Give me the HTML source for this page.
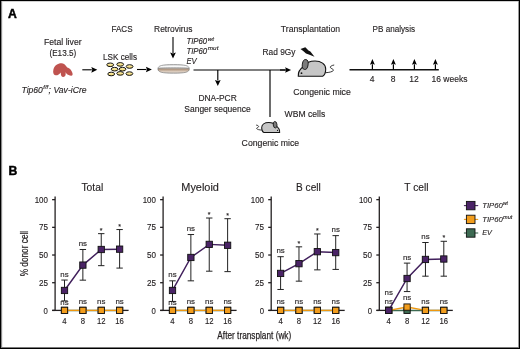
<!DOCTYPE html>
<html><head><meta charset="utf-8"><style>
html,body{margin:0;padding:0;background:#fff;}
body{width:520px;height:349px;overflow:hidden;}
.fig{position:absolute;left:0;top:0;width:520px;height:349px;box-sizing:border-box;border-left:1px solid #000;border-top:1px solid #000;border-right:1px solid #000;border-bottom:2px solid #000;}
svg{position:absolute;left:0;top:0;will-change:transform;font-family:"Liberation Sans", sans-serif;}
</style></head><body>
<svg width="520" height="349" viewBox="0 0 520 349">
<text x="8.1" y="17.6" font-size="12.2" text-anchor="start" fill="#000" font-weight="bold" stroke="#000" stroke-width="0.45">A</text>
<text x="62.8" y="44.6" font-size="8.5" text-anchor="middle" fill="#231f20" font-weight="normal" textLength="37.6" lengthAdjust="spacingAndGlyphs" stroke="#231f20" stroke-width="0.14">Fetal liver</text>
<text x="62.85" y="55.5" font-size="8.5" text-anchor="middle" fill="#231f20" font-weight="normal" textLength="26.8" lengthAdjust="spacingAndGlyphs" stroke="#231f20" stroke-width="0.14">(E13.5)</text>
<text x="122" y="32" font-size="8.5" text-anchor="middle" fill="#231f20" font-weight="normal" textLength="21" lengthAdjust="spacingAndGlyphs" stroke="#231f20" stroke-width="0.14">FACS</text>
<text x="120" y="59.9" font-size="8.5" text-anchor="middle" fill="#231f20" font-weight="normal" textLength="34" lengthAdjust="spacingAndGlyphs" stroke="#231f20" stroke-width="0.14">LSK cells</text>
<text x="173.3" y="31.6" font-size="8.5" text-anchor="middle" fill="#231f20" font-weight="normal" textLength="38.4" lengthAdjust="spacingAndGlyphs" stroke="#231f20" stroke-width="0.14">Retrovirus</text>
<text x="310.4" y="32" font-size="8.5" text-anchor="middle" fill="#231f20" font-weight="normal" textLength="59.2" lengthAdjust="spacingAndGlyphs" stroke="#231f20" stroke-width="0.14">Transplantation</text>
<text x="393.8" y="32" font-size="8.5" text-anchor="middle" fill="#231f20" font-weight="normal" textLength="42.5" lengthAdjust="spacingAndGlyphs" stroke="#231f20" stroke-width="0.14">PB analysis</text>
<path d="M53.15,71.45 C53.3,68 55,65.6 57,64.6 C58.5,63.6 60,63.15 61.45,63.15 C63.5,63.15 65.5,64.5 67.2,67.45 C69.5,67.8 72,70.5 72.6,73.75 C72.8,75.2 72,75.8 71.2,75.7 C69.5,75.5 67.5,74.8 66.6,73.75 C66,73.1 65.7,72.6 65.5,72.3 C66.1,74.6 65.4,76.9 63.3,76.9 C61.4,76.9 60.6,75 60.8,72.4 C59.8,73.8 57.5,75.5 55.7,75.35 C54.2,75.2 53.1,73.5 53.15,71.45 Z" fill="#bf534f"/>
<text x="21.5" y="92.7" font-size="8.8" text-anchor="start" fill="#231f20" font-weight="normal" font-style="italic" textLength="21.3" lengthAdjust="spacingAndGlyphs" stroke="#231f20" stroke-width="0.14">Tip60</text>
<text x="43.3" y="89.10000000000001" font-size="5.8" text-anchor="start" fill="#231f20" font-weight="normal" font-style="italic" textLength="5.0" lengthAdjust="spacingAndGlyphs" stroke="#231f20" stroke-width="0.14">f/f</text>
<text x="48.6" y="92.7" font-size="8.8" text-anchor="start" fill="#231f20" font-weight="normal" font-style="italic" textLength="38" lengthAdjust="spacingAndGlyphs" stroke="#231f20" stroke-width="0.14">; Vav-iCre</text>
<line x1="82.3" y1="69.8" x2="91.8" y2="69.8" stroke="#000" stroke-width="1.1"/>
<path d="M97.3,69.8 L91.3,66.95 L92.3,69.8 L91.3,72.64999999999999 Z" fill="#000"/>
<line x1="137" y1="69.5" x2="146.4" y2="69.5" stroke="#000" stroke-width="1.1"/>
<path d="M151.9,69.5 L145.9,66.65 L146.9,69.5 L145.9,72.35 Z" fill="#000"/>
<line x1="173" y1="37" x2="173" y2="53.1" stroke="#000" stroke-width="1.1"/>
<path d="M173,58.6 L170.15,52.6 L173,53.6 L175.85,52.6 Z" fill="#000"/>
<defs><linearGradient id="cg" x1="0" y1="0" x2="0" y2="1"><stop offset="0" stop-color="#fff3b8"/><stop offset="1" stop-color="#f0d468"/></linearGradient><linearGradient id="dg" x1="0" y1="0" x2="0" y2="1"><stop offset="0" stop-color="#a89a8e"/><stop offset="0.45" stop-color="#cdb9a6"/><stop offset="0.75" stop-color="#e2d6cb"/><stop offset="1" stop-color="#c9bcb1"/></linearGradient><linearGradient id="dish" x1="0" y1="0" x2="0" y2="1"><stop offset="0" stop-color="#d4d4d4"/><stop offset="0.2" stop-color="#fafafa"/><stop offset="0.33" stop-color="#f2f2f2"/><stop offset="0.42" stop-color="#a8a8a8"/><stop offset="0.5" stop-color="#bca590"/><stop offset="0.6" stop-color="#b09680"/><stop offset="0.76" stop-color="#dccbbb"/><stop offset="1" stop-color="#cfc8c2"/></linearGradient><linearGradient id="lg" x1="0" y1="0" x2="0" y2="1"><stop offset="0" stop-color="#d8d8d8"/><stop offset="0.35" stop-color="#ffffff"/><stop offset="1" stop-color="#e4e4e4"/></linearGradient></defs>
<ellipse cx="110.2" cy="64.8" rx="3.4" ry="1.8" fill="url(#cg)" stroke="#111" stroke-width="1.0"/>
<ellipse cx="120.2" cy="64.4" rx="3.4" ry="1.8" fill="url(#cg)" stroke="#111" stroke-width="1.0"/>
<ellipse cx="129.6" cy="66.5" rx="3.4" ry="1.8" fill="url(#cg)" stroke="#111" stroke-width="1.0"/>
<ellipse cx="114.6" cy="69.2" rx="3.4" ry="1.8" fill="url(#cg)" stroke="#111" stroke-width="1.0"/>
<ellipse cx="122.5" cy="69.2" rx="3.4" ry="1.8" fill="url(#cg)" stroke="#111" stroke-width="1.0"/>
<ellipse cx="111.2" cy="74" rx="3.4" ry="1.8" fill="url(#cg)" stroke="#111" stroke-width="1.0"/>
<ellipse cx="120.2" cy="73.4" rx="3.4" ry="1.8" fill="url(#cg)" stroke="#111" stroke-width="1.0"/>
<ellipse cx="129.4" cy="73.6" rx="3.4" ry="1.8" fill="url(#cg)" stroke="#111" stroke-width="1.0"/>
<path d="M157.9,68.9 C157.9,65.6 162,64.6 173.6,64.6 C185.2,64.6 189.3,65.6 189.3,68.9 C189.3,72.2 185.2,73.2 173.6,73.2 C162,73.2 157.9,72.2 157.9,68.9 Z" fill="url(#dish)" stroke="#7c7c7c" stroke-width="0.65"/>
<path d="M158.4,68.4 C160,67.9 165,67.7 173.6,67.7 C182,67.7 187,67.9 188.8,68.4" fill="none" stroke="#707070" stroke-width="0.5"/>
<text x="186.4" y="43.9" font-size="9" text-anchor="start" fill="#231f20" font-weight="normal" font-style="italic" textLength="20.8" lengthAdjust="spacingAndGlyphs" stroke="#231f20" stroke-width="0.14">TIP60</text>
<text x="207.8" y="40.9" font-size="5.6" text-anchor="start" fill="#231f20" font-weight="normal" font-style="italic" textLength="6.2" lengthAdjust="spacingAndGlyphs" stroke="#231f20" stroke-width="0.14">wt</text>
<text x="186.4" y="53.7" font-size="9" text-anchor="start" fill="#231f20" font-weight="normal" font-style="italic" textLength="20.8" lengthAdjust="spacingAndGlyphs" stroke="#231f20" stroke-width="0.14">TIP60</text>
<text x="207.8" y="50.400000000000006" font-size="5.6" text-anchor="start" fill="#231f20" font-weight="normal" font-style="italic" textLength="10.6" lengthAdjust="spacingAndGlyphs" stroke="#231f20" stroke-width="0.14">mut</text>
<text x="186.4" y="64.3" font-size="9" text-anchor="start" fill="#231f20" font-weight="normal" font-style="italic" textLength="10.2" lengthAdjust="spacingAndGlyphs" stroke="#231f20" stroke-width="0.14">EV</text>
<line x1="193.5" y1="70" x2="286" y2="70" stroke="#000" stroke-width="1.2"/>
<line x1="280" y1="70" x2="285.6" y2="70" stroke="#000" stroke-width="1.2"/>
<path d="M291.1,70 L285.1,67.15 L286.1,70 L285.1,72.85 Z" fill="#000"/>
<line x1="217.8" y1="70" x2="217.8" y2="80.5" stroke="#000" stroke-width="1.15"/>
<path d="M217.8,86 L214.95000000000002,80.0 L217.8,81.0 L220.65,80.0 Z" fill="#000"/>
<text x="217.6" y="101" font-size="8.5" text-anchor="middle" fill="#231f20" font-weight="normal" textLength="38.4" lengthAdjust="spacingAndGlyphs" stroke="#231f20" stroke-width="0.14">DNA-PCR</text>
<text x="217.5" y="111.6" font-size="8.5" text-anchor="middle" fill="#231f20" font-weight="normal" textLength="66.3" lengthAdjust="spacingAndGlyphs" stroke="#231f20" stroke-width="0.14">Sanger sequence</text>
<line x1="270" y1="70" x2="270" y2="117" stroke="#000" stroke-width="1.15"/>
<text x="284.6" y="117.3" font-size="8.5" text-anchor="start" fill="#231f20" font-weight="normal" textLength="40.6" lengthAdjust="spacingAndGlyphs" stroke="#231f20" stroke-width="0.14">WBM cells</text>
<text x="270.4" y="146.2" font-size="8.5" text-anchor="middle" fill="#231f20" font-weight="normal" textLength="57.6" lengthAdjust="spacingAndGlyphs" stroke="#231f20" stroke-width="0.14">Congenic mice</text>
<text x="322" y="94.5" font-size="8.5" text-anchor="middle" fill="#231f20" font-weight="normal" textLength="57.6" lengthAdjust="spacingAndGlyphs" stroke="#231f20" stroke-width="0.14">Congenic mice</text>
<text x="262.6" y="55.2" font-size="8.5" text-anchor="start" fill="#231f20" font-weight="normal" textLength="32.9" lengthAdjust="spacingAndGlyphs" stroke="#231f20" stroke-width="0.14">Rad 9Gy</text>
<path d="M300.5,49 L305.3,47.2 L308.5,50.5 L310.4,51.5 L314.5,56.8 L309.5,54.8 L306,53.5 L303.2,51 Z" fill="#111"/>
<g transform="translate(295,55) scale(1.0,1.0)"><path d="M30.7,17.7 C34,17.5 37.5,16.8 38.3,15.5 C39,14.2 36,13.6 35.4,12.6 C34.9,11.5 36.6,10.4 39.2,10" fill="none" stroke="#111" stroke-width="0.85"/><path d="M3.3,20.8 C3,18 5,14 9,11 C11,8 15,6 20,6 C26,6 30.7,9 30.7,14 C30.7,17.5 29,20.5 27.7,21.2 L3.3,21.2 Z" fill="#c6c6c6" stroke="#111" stroke-width="1.1"/><ellipse cx="10.2" cy="9.5" rx="2.9" ry="5" transform="rotate(8 10.2 9.5)" fill="#7b7b7b" stroke="#111" stroke-width="0.85"/><circle cx="6.5" cy="18.2" r="0.9" fill="#111"/></g>
<g transform="translate(281.8,118.5) scale(-0.655,0.655)"><path d="M30.7,17.7 C34,17.5 37.5,16.8 38.3,15.5 C39,14.2 36,13.6 35.4,12.6 C34.9,11.5 36.6,10.4 39.2,10" fill="none" stroke="#111" stroke-width="1.221"/><path d="M3.3,20.8 C3,18 5,14 9,11 C11,8 15,6 20,6 C26,6 30.7,9 30.7,14 C30.7,17.5 29,20.5 27.7,21.2 L3.3,21.2 Z" fill="#c6c6c6" stroke="#111" stroke-width="1.527"/><ellipse cx="10.2" cy="9.5" rx="2.9" ry="5" transform="rotate(8 10.2 9.5)" fill="#7b7b7b" stroke="#111" stroke-width="1.221"/><circle cx="6.5" cy="18.2" r="0.9" fill="#111"/></g>
<line x1="349.5" y1="69.7" x2="438.8" y2="69.7" stroke="#111" stroke-width="1.4"/>
<line x1="372.4" y1="69.5" x2="372.4" y2="64.2" stroke="#000" stroke-width="1.2"/>
<path d="M372.4,59.0 L369.95,64.7 L372.4,63.7 L374.84999999999997,64.7 Z" fill="#000"/>
<line x1="393.4" y1="69.5" x2="393.4" y2="64.2" stroke="#000" stroke-width="1.2"/>
<path d="M393.4,59.0 L390.95,64.7 L393.4,63.7 L395.84999999999997,64.7 Z" fill="#000"/>
<line x1="414.4" y1="69.5" x2="414.4" y2="64.2" stroke="#000" stroke-width="1.2"/>
<path d="M414.4,59.0 L411.95,64.7 L414.4,63.7 L416.84999999999997,64.7 Z" fill="#000"/>
<line x1="435.4" y1="69.5" x2="435.4" y2="64.2" stroke="#000" stroke-width="1.2"/>
<path d="M435.4,59.0 L432.95,64.7 L435.4,63.7 L437.84999999999997,64.7 Z" fill="#000"/>
<text x="372" y="82" font-size="8.5" text-anchor="middle" fill="#231f20" font-weight="normal" stroke="#231f20" stroke-width="0.14">4</text>
<text x="393" y="82" font-size="8.5" text-anchor="middle" fill="#231f20" font-weight="normal" stroke="#231f20" stroke-width="0.14">8</text>
<text x="414" y="82" font-size="8.5" text-anchor="middle" fill="#231f20" font-weight="normal" stroke="#231f20" stroke-width="0.14">12</text>
<text x="431.5" y="82" font-size="8.5" text-anchor="start" fill="#231f20" font-weight="normal" stroke="#231f20" stroke-width="0.14">16 weeks</text>
<text x="8.6" y="174.8" font-size="12.2" text-anchor="start" fill="#000" font-weight="bold" stroke="#000" stroke-width="0.45">B</text>
<text x="92.3" y="191" font-size="10.8" text-anchor="middle" fill="#231f20" font-weight="normal" textLength="21.8" lengthAdjust="spacingAndGlyphs" stroke="#231f20" stroke-width="0.14">Total</text>
<line x1="55.1" y1="196.5" x2="55.1" y2="310.4" stroke="#231f20" stroke-width="1.3"/>
<line x1="52.300000000000004" y1="310.4" x2="64.5" y2="310.4" stroke="#231f20" stroke-width="1.3"/>
<line x1="119.61" y1="310.4" x2="128.6" y2="310.4" stroke="#231f20" stroke-width="1.3"/>
<line x1="52.1" y1="310.4" x2="55.1" y2="310.4" stroke="#231f20" stroke-width="1.3"/>
<text x="47.9" y="313.5" font-size="8.6" text-anchor="end" fill="#231f20" font-weight="normal" textLength="4.3" lengthAdjust="spacingAndGlyphs" stroke="#231f20" stroke-width="0.14">0</text>
<line x1="52.1" y1="282.71" x2="55.1" y2="282.71" stroke="#231f20" stroke-width="1.3"/>
<text x="47.9" y="285.81" font-size="8.6" text-anchor="end" fill="#231f20" font-weight="normal" textLength="9" lengthAdjust="spacingAndGlyphs" stroke="#231f20" stroke-width="0.14">25</text>
<line x1="52.1" y1="255.02" x2="55.1" y2="255.02" stroke="#231f20" stroke-width="1.3"/>
<text x="47.9" y="258.12" font-size="8.6" text-anchor="end" fill="#231f20" font-weight="normal" textLength="9" lengthAdjust="spacingAndGlyphs" stroke="#231f20" stroke-width="0.14">50</text>
<line x1="52.1" y1="227.34" x2="55.1" y2="227.34" stroke="#231f20" stroke-width="1.3"/>
<text x="47.9" y="230.44" font-size="8.6" text-anchor="end" fill="#231f20" font-weight="normal" textLength="9" lengthAdjust="spacingAndGlyphs" stroke="#231f20" stroke-width="0.14">75</text>
<line x1="52.1" y1="199.65" x2="55.1" y2="199.65" stroke="#231f20" stroke-width="1.3"/>
<text x="47.9" y="202.75" font-size="8.6" text-anchor="end" fill="#231f20" font-weight="normal" textLength="13.2" lengthAdjust="spacingAndGlyphs" stroke="#231f20" stroke-width="0.14">100</text>
<text x="64.5" y="324.4" font-size="8.6" text-anchor="middle" fill="#231f20" font-weight="normal" textLength="4.3" lengthAdjust="spacingAndGlyphs" stroke="#231f20" stroke-width="0.14">4</text>
<text x="82.87" y="324.4" font-size="8.6" text-anchor="middle" fill="#231f20" font-weight="normal" textLength="4.3" lengthAdjust="spacingAndGlyphs" stroke="#231f20" stroke-width="0.14">8</text>
<text x="101.24" y="324.4" font-size="8.6" text-anchor="middle" fill="#231f20" font-weight="normal" textLength="8.6" lengthAdjust="spacingAndGlyphs" stroke="#231f20" stroke-width="0.14">12</text>
<text x="119.61" y="324.4" font-size="8.6" text-anchor="middle" fill="#231f20" font-weight="normal" textLength="8.6" lengthAdjust="spacingAndGlyphs" stroke="#231f20" stroke-width="0.14">16</text>
<polyline points="64.5,310.4 82.87,310.4 101.24,310.4 119.61,310.4" fill="none" stroke="#3d6a52" stroke-width="1.5"/>
<rect x="61.35" y="307.25" width="6.3" height="6.3" fill="#3d6a52" stroke="#111" stroke-width="0.9"/>
<rect x="79.72" y="307.25" width="6.3" height="6.3" fill="#3d6a52" stroke="#111" stroke-width="0.9"/>
<rect x="98.08999999999999" y="307.25" width="6.3" height="6.3" fill="#3d6a52" stroke="#111" stroke-width="0.9"/>
<rect x="116.46" y="307.25" width="6.3" height="6.3" fill="#3d6a52" stroke="#111" stroke-width="0.9"/>
<polyline points="64.5,310.4 82.87,310.4 101.24,310.4 119.61,310.4" fill="none" stroke="#ee9810" stroke-width="1.4"/>
<rect x="61.35" y="307.25" width="6.3" height="6.3" fill="#f29d1d" stroke="#111" stroke-width="0.9"/>
<rect x="79.72" y="307.25" width="6.3" height="6.3" fill="#f29d1d" stroke="#111" stroke-width="0.9"/>
<rect x="98.08999999999999" y="307.25" width="6.3" height="6.3" fill="#f29d1d" stroke="#111" stroke-width="0.9"/>
<rect x="116.46" y="307.25" width="6.3" height="6.3" fill="#f29d1d" stroke="#111" stroke-width="0.9"/>
<line x1="64.5" y1="280.05" x2="64.5" y2="300.88" stroke="#222" stroke-width="1"/>
<line x1="61.3" y1="280.05" x2="67.7" y2="280.05" stroke="#222" stroke-width="1"/>
<line x1="61.3" y1="300.88" x2="67.7" y2="300.88" stroke="#222" stroke-width="1"/>
<line x1="82.87" y1="249.49" x2="82.87" y2="280.17" stroke="#222" stroke-width="1"/>
<line x1="79.67" y1="249.49" x2="86.07000000000001" y2="249.49" stroke="#222" stroke-width="1"/>
<line x1="79.67" y1="280.17" x2="86.07000000000001" y2="280.17" stroke="#222" stroke-width="1"/>
<line x1="101.24" y1="233.65" x2="101.24" y2="265.66" stroke="#222" stroke-width="1"/>
<line x1="98.03999999999999" y1="233.65" x2="104.44" y2="233.65" stroke="#222" stroke-width="1"/>
<line x1="98.03999999999999" y1="265.66" x2="104.44" y2="265.66" stroke="#222" stroke-width="1"/>
<line x1="119.61" y1="229.55" x2="119.61" y2="268.09" stroke="#222" stroke-width="1"/>
<line x1="116.41" y1="229.55" x2="122.81" y2="229.55" stroke="#222" stroke-width="1"/>
<line x1="116.41" y1="268.09" x2="122.81" y2="268.09" stroke="#222" stroke-width="1"/>
<polyline points="64.5,290.46 82.87,265.1 101.24,249.49 119.61,249.16" fill="none" stroke="#41205c" stroke-width="1.45"/>
<rect x="61.35" y="287.31" width="6.3" height="6.3" fill="#4a2366" stroke="#111" stroke-width="0.9"/>
<rect x="79.72" y="261.95000000000005" width="6.3" height="6.3" fill="#4a2366" stroke="#111" stroke-width="0.9"/>
<rect x="98.08999999999999" y="246.34" width="6.3" height="6.3" fill="#4a2366" stroke="#111" stroke-width="0.9"/>
<rect x="116.46" y="246.01" width="6.3" height="6.3" fill="#4a2366" stroke="#111" stroke-width="0.9"/>
<text x="64.5" y="276.55" font-size="7.9" text-anchor="middle" fill="#231f20" font-weight="normal" stroke="#231f20" stroke-width="0.14">ns</text>
<text x="82.87" y="245.99" font-size="7.9" text-anchor="middle" fill="#231f20" font-weight="normal" stroke="#231f20" stroke-width="0.14">ns</text>
<text x="101.24" y="232.85" font-size="7" text-anchor="middle" fill="#231f20" font-weight="normal" stroke="#231f20" stroke-width="0.14">*</text>
<text x="119.61" y="228.75" font-size="7" text-anchor="middle" fill="#231f20" font-weight="normal" stroke="#231f20" stroke-width="0.14">*</text>
<text x="64.5" y="305.0" font-size="7.9" text-anchor="middle" fill="#231f20" font-weight="normal" stroke="#231f20" stroke-width="0.14">ns</text>
<text x="82.87" y="303.6" font-size="7.9" text-anchor="middle" fill="#231f20" font-weight="normal" stroke="#231f20" stroke-width="0.14">ns</text>
<text x="101.24" y="303.6" font-size="7.9" text-anchor="middle" fill="#231f20" font-weight="normal" stroke="#231f20" stroke-width="0.14">ns</text>
<text x="119.61" y="303.6" font-size="7.9" text-anchor="middle" fill="#231f20" font-weight="normal" stroke="#231f20" stroke-width="0.14">ns</text>
<text x="200.1" y="191" font-size="10.8" text-anchor="middle" fill="#231f20" font-weight="normal" textLength="37.6" lengthAdjust="spacingAndGlyphs" stroke="#231f20" stroke-width="0.14">Myeloid</text>
<line x1="163.1" y1="196.5" x2="163.1" y2="310.4" stroke="#231f20" stroke-width="1.3"/>
<line x1="160.29999999999998" y1="310.4" x2="172.5" y2="310.4" stroke="#231f20" stroke-width="1.3"/>
<line x1="227.61" y1="310.4" x2="236.6" y2="310.4" stroke="#231f20" stroke-width="1.3"/>
<line x1="160.1" y1="310.4" x2="163.1" y2="310.4" stroke="#231f20" stroke-width="1.3"/>
<text x="155.9" y="313.5" font-size="8.6" text-anchor="end" fill="#231f20" font-weight="normal" textLength="4.3" lengthAdjust="spacingAndGlyphs" stroke="#231f20" stroke-width="0.14">0</text>
<line x1="160.1" y1="282.71" x2="163.1" y2="282.71" stroke="#231f20" stroke-width="1.3"/>
<text x="155.9" y="285.81" font-size="8.6" text-anchor="end" fill="#231f20" font-weight="normal" textLength="9" lengthAdjust="spacingAndGlyphs" stroke="#231f20" stroke-width="0.14">25</text>
<line x1="160.1" y1="255.02" x2="163.1" y2="255.02" stroke="#231f20" stroke-width="1.3"/>
<text x="155.9" y="258.12" font-size="8.6" text-anchor="end" fill="#231f20" font-weight="normal" textLength="9" lengthAdjust="spacingAndGlyphs" stroke="#231f20" stroke-width="0.14">50</text>
<line x1="160.1" y1="227.34" x2="163.1" y2="227.34" stroke="#231f20" stroke-width="1.3"/>
<text x="155.9" y="230.44" font-size="8.6" text-anchor="end" fill="#231f20" font-weight="normal" textLength="9" lengthAdjust="spacingAndGlyphs" stroke="#231f20" stroke-width="0.14">75</text>
<line x1="160.1" y1="199.65" x2="163.1" y2="199.65" stroke="#231f20" stroke-width="1.3"/>
<text x="155.9" y="202.75" font-size="8.6" text-anchor="end" fill="#231f20" font-weight="normal" textLength="13.2" lengthAdjust="spacingAndGlyphs" stroke="#231f20" stroke-width="0.14">100</text>
<text x="172.5" y="324.4" font-size="8.6" text-anchor="middle" fill="#231f20" font-weight="normal" textLength="4.3" lengthAdjust="spacingAndGlyphs" stroke="#231f20" stroke-width="0.14">4</text>
<text x="190.87" y="324.4" font-size="8.6" text-anchor="middle" fill="#231f20" font-weight="normal" textLength="4.3" lengthAdjust="spacingAndGlyphs" stroke="#231f20" stroke-width="0.14">8</text>
<text x="209.24" y="324.4" font-size="8.6" text-anchor="middle" fill="#231f20" font-weight="normal" textLength="8.6" lengthAdjust="spacingAndGlyphs" stroke="#231f20" stroke-width="0.14">12</text>
<text x="227.61" y="324.4" font-size="8.6" text-anchor="middle" fill="#231f20" font-weight="normal" textLength="8.6" lengthAdjust="spacingAndGlyphs" stroke="#231f20" stroke-width="0.14">16</text>
<polyline points="172.5,310.4 190.87,310.4 209.24,310.4 227.61,310.4" fill="none" stroke="#3d6a52" stroke-width="1.5"/>
<rect x="169.35" y="307.25" width="6.3" height="6.3" fill="#3d6a52" stroke="#111" stroke-width="0.9"/>
<rect x="187.72" y="307.25" width="6.3" height="6.3" fill="#3d6a52" stroke="#111" stroke-width="0.9"/>
<rect x="206.09" y="307.25" width="6.3" height="6.3" fill="#3d6a52" stroke="#111" stroke-width="0.9"/>
<rect x="224.46" y="307.25" width="6.3" height="6.3" fill="#3d6a52" stroke="#111" stroke-width="0.9"/>
<polyline points="172.5,310.4 190.87,310.4 209.24,310.4 227.61,310.4" fill="none" stroke="#ee9810" stroke-width="1.4"/>
<rect x="169.35" y="307.25" width="6.3" height="6.3" fill="#f29d1d" stroke="#111" stroke-width="0.9"/>
<rect x="187.72" y="307.25" width="6.3" height="6.3" fill="#f29d1d" stroke="#111" stroke-width="0.9"/>
<rect x="206.09" y="307.25" width="6.3" height="6.3" fill="#f29d1d" stroke="#111" stroke-width="0.9"/>
<rect x="224.46" y="307.25" width="6.3" height="6.3" fill="#f29d1d" stroke="#111" stroke-width="0.9"/>
<line x1="172.5" y1="280.83" x2="172.5" y2="301.43" stroke="#222" stroke-width="1"/>
<line x1="169.3" y1="280.83" x2="175.7" y2="280.83" stroke="#222" stroke-width="1"/>
<line x1="169.3" y1="301.43" x2="175.7" y2="301.43" stroke="#222" stroke-width="1"/>
<line x1="190.87" y1="234.54" x2="190.87" y2="280.83" stroke="#222" stroke-width="1"/>
<line x1="187.67000000000002" y1="234.54" x2="194.07" y2="234.54" stroke="#222" stroke-width="1"/>
<line x1="187.67000000000002" y1="280.83" x2="194.07" y2="280.83" stroke="#222" stroke-width="1"/>
<line x1="209.24" y1="218.03" x2="209.24" y2="271.19" stroke="#222" stroke-width="1"/>
<line x1="206.04000000000002" y1="218.03" x2="212.44" y2="218.03" stroke="#222" stroke-width="1"/>
<line x1="206.04000000000002" y1="271.19" x2="212.44" y2="271.19" stroke="#222" stroke-width="1"/>
<line x1="227.61" y1="218.7" x2="227.61" y2="271.64" stroke="#222" stroke-width="1"/>
<line x1="224.41000000000003" y1="218.7" x2="230.81" y2="218.7" stroke="#222" stroke-width="1"/>
<line x1="224.41000000000003" y1="271.64" x2="230.81" y2="271.64" stroke="#222" stroke-width="1"/>
<polyline points="172.5,290.46 190.87,257.46 209.24,244.39 227.61,245.28" fill="none" stroke="#41205c" stroke-width="1.45"/>
<rect x="169.35" y="287.31" width="6.3" height="6.3" fill="#4a2366" stroke="#111" stroke-width="0.9"/>
<rect x="187.72" y="254.30999999999997" width="6.3" height="6.3" fill="#4a2366" stroke="#111" stroke-width="0.9"/>
<rect x="206.09" y="241.23999999999998" width="6.3" height="6.3" fill="#4a2366" stroke="#111" stroke-width="0.9"/>
<rect x="224.46" y="242.13" width="6.3" height="6.3" fill="#4a2366" stroke="#111" stroke-width="0.9"/>
<text x="172.5" y="277.33" font-size="7.9" text-anchor="middle" fill="#231f20" font-weight="normal" stroke="#231f20" stroke-width="0.14">ns</text>
<text x="190.87" y="231.04" font-size="7.9" text-anchor="middle" fill="#231f20" font-weight="normal" stroke="#231f20" stroke-width="0.14">ns</text>
<text x="209.24" y="217.23" font-size="7" text-anchor="middle" fill="#231f20" font-weight="normal" stroke="#231f20" stroke-width="0.14">*</text>
<text x="227.61" y="217.89999999999998" font-size="7" text-anchor="middle" fill="#231f20" font-weight="normal" stroke="#231f20" stroke-width="0.14">*</text>
<text x="172.5" y="305.0" font-size="7.9" text-anchor="middle" fill="#231f20" font-weight="normal" stroke="#231f20" stroke-width="0.14">ns</text>
<text x="190.87" y="303.6" font-size="7.9" text-anchor="middle" fill="#231f20" font-weight="normal" stroke="#231f20" stroke-width="0.14">ns</text>
<text x="209.24" y="303.6" font-size="7.9" text-anchor="middle" fill="#231f20" font-weight="normal" stroke="#231f20" stroke-width="0.14">ns</text>
<text x="227.61" y="303.6" font-size="7.9" text-anchor="middle" fill="#231f20" font-weight="normal" stroke="#231f20" stroke-width="0.14">ns</text>
<text x="308.4" y="191" font-size="10.8" text-anchor="middle" fill="#231f20" font-weight="normal" textLength="24.7" lengthAdjust="spacingAndGlyphs" stroke="#231f20" stroke-width="0.14">B cell</text>
<line x1="271.2" y1="196.5" x2="271.2" y2="310.4" stroke="#231f20" stroke-width="1.3"/>
<line x1="268.4" y1="310.4" x2="280.6" y2="310.4" stroke="#231f20" stroke-width="1.3"/>
<line x1="335.71" y1="310.4" x2="344.7" y2="310.4" stroke="#231f20" stroke-width="1.3"/>
<line x1="268.2" y1="310.4" x2="271.2" y2="310.4" stroke="#231f20" stroke-width="1.3"/>
<text x="264.0" y="313.5" font-size="8.6" text-anchor="end" fill="#231f20" font-weight="normal" textLength="4.3" lengthAdjust="spacingAndGlyphs" stroke="#231f20" stroke-width="0.14">0</text>
<line x1="268.2" y1="282.71" x2="271.2" y2="282.71" stroke="#231f20" stroke-width="1.3"/>
<text x="264.0" y="285.81" font-size="8.6" text-anchor="end" fill="#231f20" font-weight="normal" textLength="9" lengthAdjust="spacingAndGlyphs" stroke="#231f20" stroke-width="0.14">25</text>
<line x1="268.2" y1="255.02" x2="271.2" y2="255.02" stroke="#231f20" stroke-width="1.3"/>
<text x="264.0" y="258.12" font-size="8.6" text-anchor="end" fill="#231f20" font-weight="normal" textLength="9" lengthAdjust="spacingAndGlyphs" stroke="#231f20" stroke-width="0.14">50</text>
<line x1="268.2" y1="227.34" x2="271.2" y2="227.34" stroke="#231f20" stroke-width="1.3"/>
<text x="264.0" y="230.44" font-size="8.6" text-anchor="end" fill="#231f20" font-weight="normal" textLength="9" lengthAdjust="spacingAndGlyphs" stroke="#231f20" stroke-width="0.14">75</text>
<line x1="268.2" y1="199.65" x2="271.2" y2="199.65" stroke="#231f20" stroke-width="1.3"/>
<text x="264.0" y="202.75" font-size="8.6" text-anchor="end" fill="#231f20" font-weight="normal" textLength="13.2" lengthAdjust="spacingAndGlyphs" stroke="#231f20" stroke-width="0.14">100</text>
<text x="280.6" y="324.4" font-size="8.6" text-anchor="middle" fill="#231f20" font-weight="normal" textLength="4.3" lengthAdjust="spacingAndGlyphs" stroke="#231f20" stroke-width="0.14">4</text>
<text x="298.97" y="324.4" font-size="8.6" text-anchor="middle" fill="#231f20" font-weight="normal" textLength="4.3" lengthAdjust="spacingAndGlyphs" stroke="#231f20" stroke-width="0.14">8</text>
<text x="317.34" y="324.4" font-size="8.6" text-anchor="middle" fill="#231f20" font-weight="normal" textLength="8.6" lengthAdjust="spacingAndGlyphs" stroke="#231f20" stroke-width="0.14">12</text>
<text x="335.71" y="324.4" font-size="8.6" text-anchor="middle" fill="#231f20" font-weight="normal" textLength="8.6" lengthAdjust="spacingAndGlyphs" stroke="#231f20" stroke-width="0.14">16</text>
<polyline points="280.6,310.4 298.97,310.4 317.34,310.4 335.71,310.4" fill="none" stroke="#3d6a52" stroke-width="1.5"/>
<rect x="277.45000000000005" y="307.25" width="6.3" height="6.3" fill="#3d6a52" stroke="#111" stroke-width="0.9"/>
<rect x="295.82000000000005" y="307.25" width="6.3" height="6.3" fill="#3d6a52" stroke="#111" stroke-width="0.9"/>
<rect x="314.19" y="307.25" width="6.3" height="6.3" fill="#3d6a52" stroke="#111" stroke-width="0.9"/>
<rect x="332.56" y="307.25" width="6.3" height="6.3" fill="#3d6a52" stroke="#111" stroke-width="0.9"/>
<polyline points="280.6,310.4 298.97,310.4 317.34,310.4 335.71,310.4" fill="none" stroke="#ee9810" stroke-width="1.4"/>
<rect x="277.45000000000005" y="307.25" width="6.3" height="6.3" fill="#f29d1d" stroke="#111" stroke-width="0.9"/>
<rect x="295.82000000000005" y="307.25" width="6.3" height="6.3" fill="#f29d1d" stroke="#111" stroke-width="0.9"/>
<rect x="314.19" y="307.25" width="6.3" height="6.3" fill="#f29d1d" stroke="#111" stroke-width="0.9"/>
<rect x="332.56" y="307.25" width="6.3" height="6.3" fill="#f29d1d" stroke="#111" stroke-width="0.9"/>
<line x1="280.6" y1="256.69" x2="280.6" y2="289.47" stroke="#222" stroke-width="1"/>
<line x1="277.40000000000003" y1="256.69" x2="283.8" y2="256.69" stroke="#222" stroke-width="1"/>
<line x1="277.40000000000003" y1="289.47" x2="283.8" y2="289.47" stroke="#222" stroke-width="1"/>
<line x1="298.97" y1="246.83" x2="298.97" y2="281.16" stroke="#222" stroke-width="1"/>
<line x1="295.77000000000004" y1="246.83" x2="302.17" y2="246.83" stroke="#222" stroke-width="1"/>
<line x1="295.77000000000004" y1="281.16" x2="302.17" y2="281.16" stroke="#222" stroke-width="1"/>
<line x1="317.34" y1="233.98" x2="317.34" y2="269.87" stroke="#222" stroke-width="1"/>
<line x1="314.14" y1="233.98" x2="320.53999999999996" y2="233.98" stroke="#222" stroke-width="1"/>
<line x1="314.14" y1="269.87" x2="320.53999999999996" y2="269.87" stroke="#222" stroke-width="1"/>
<line x1="335.71" y1="235.64" x2="335.71" y2="269.42" stroke="#222" stroke-width="1"/>
<line x1="332.51" y1="235.64" x2="338.90999999999997" y2="235.64" stroke="#222" stroke-width="1"/>
<line x1="332.51" y1="269.42" x2="338.90999999999997" y2="269.42" stroke="#222" stroke-width="1"/>
<polyline points="280.6,273.41 298.97,263.66 317.34,251.7 335.71,252.59" fill="none" stroke="#41205c" stroke-width="1.45"/>
<rect x="277.45000000000005" y="270.26000000000005" width="6.3" height="6.3" fill="#4a2366" stroke="#111" stroke-width="0.9"/>
<rect x="295.82000000000005" y="260.51000000000005" width="6.3" height="6.3" fill="#4a2366" stroke="#111" stroke-width="0.9"/>
<rect x="314.19" y="248.54999999999998" width="6.3" height="6.3" fill="#4a2366" stroke="#111" stroke-width="0.9"/>
<rect x="332.56" y="249.44" width="6.3" height="6.3" fill="#4a2366" stroke="#111" stroke-width="0.9"/>
<text x="280.6" y="253.19" font-size="7.9" text-anchor="middle" fill="#231f20" font-weight="normal" stroke="#231f20" stroke-width="0.14">ns</text>
<text x="298.97" y="246.03" font-size="7" text-anchor="middle" fill="#231f20" font-weight="normal" stroke="#231f20" stroke-width="0.14">*</text>
<text x="317.34" y="233.17999999999998" font-size="7" text-anchor="middle" fill="#231f20" font-weight="normal" stroke="#231f20" stroke-width="0.14">*</text>
<text x="335.71" y="232.14" font-size="7.9" text-anchor="middle" fill="#231f20" font-weight="normal" stroke="#231f20" stroke-width="0.14">ns</text>
<text x="280.6" y="303.6" font-size="7.9" text-anchor="middle" fill="#231f20" font-weight="normal" stroke="#231f20" stroke-width="0.14">ns</text>
<text x="298.97" y="303.6" font-size="7.9" text-anchor="middle" fill="#231f20" font-weight="normal" stroke="#231f20" stroke-width="0.14">ns</text>
<text x="317.34" y="303.6" font-size="7.9" text-anchor="middle" fill="#231f20" font-weight="normal" stroke="#231f20" stroke-width="0.14">ns</text>
<text x="335.71" y="303.6" font-size="7.9" text-anchor="middle" fill="#231f20" font-weight="normal" stroke="#231f20" stroke-width="0.14">ns</text>
<text x="416.4" y="191" font-size="10.8" text-anchor="middle" fill="#231f20" font-weight="normal" textLength="24.2" lengthAdjust="spacingAndGlyphs" stroke="#231f20" stroke-width="0.14">T cell</text>
<line x1="379.3" y1="196.5" x2="379.3" y2="310.4" stroke="#231f20" stroke-width="1.3"/>
<line x1="376.5" y1="310.4" x2="388.7" y2="310.4" stroke="#231f20" stroke-width="1.3"/>
<line x1="443.81" y1="310.4" x2="452.8" y2="310.4" stroke="#231f20" stroke-width="1.3"/>
<line x1="376.3" y1="310.4" x2="379.3" y2="310.4" stroke="#231f20" stroke-width="1.3"/>
<text x="372.1" y="313.5" font-size="8.6" text-anchor="end" fill="#231f20" font-weight="normal" textLength="4.3" lengthAdjust="spacingAndGlyphs" stroke="#231f20" stroke-width="0.14">0</text>
<line x1="376.3" y1="282.71" x2="379.3" y2="282.71" stroke="#231f20" stroke-width="1.3"/>
<text x="372.1" y="285.81" font-size="8.6" text-anchor="end" fill="#231f20" font-weight="normal" textLength="9" lengthAdjust="spacingAndGlyphs" stroke="#231f20" stroke-width="0.14">25</text>
<line x1="376.3" y1="255.02" x2="379.3" y2="255.02" stroke="#231f20" stroke-width="1.3"/>
<text x="372.1" y="258.12" font-size="8.6" text-anchor="end" fill="#231f20" font-weight="normal" textLength="9" lengthAdjust="spacingAndGlyphs" stroke="#231f20" stroke-width="0.14">50</text>
<line x1="376.3" y1="227.34" x2="379.3" y2="227.34" stroke="#231f20" stroke-width="1.3"/>
<text x="372.1" y="230.44" font-size="8.6" text-anchor="end" fill="#231f20" font-weight="normal" textLength="9" lengthAdjust="spacingAndGlyphs" stroke="#231f20" stroke-width="0.14">75</text>
<line x1="376.3" y1="199.65" x2="379.3" y2="199.65" stroke="#231f20" stroke-width="1.3"/>
<text x="372.1" y="202.75" font-size="8.6" text-anchor="end" fill="#231f20" font-weight="normal" textLength="13.2" lengthAdjust="spacingAndGlyphs" stroke="#231f20" stroke-width="0.14">100</text>
<text x="388.7" y="324.4" font-size="8.6" text-anchor="middle" fill="#231f20" font-weight="normal" textLength="4.3" lengthAdjust="spacingAndGlyphs" stroke="#231f20" stroke-width="0.14">4</text>
<text x="407.07" y="324.4" font-size="8.6" text-anchor="middle" fill="#231f20" font-weight="normal" textLength="4.3" lengthAdjust="spacingAndGlyphs" stroke="#231f20" stroke-width="0.14">8</text>
<text x="425.44" y="324.4" font-size="8.6" text-anchor="middle" fill="#231f20" font-weight="normal" textLength="8.6" lengthAdjust="spacingAndGlyphs" stroke="#231f20" stroke-width="0.14">12</text>
<text x="443.81" y="324.4" font-size="8.6" text-anchor="middle" fill="#231f20" font-weight="normal" textLength="8.6" lengthAdjust="spacingAndGlyphs" stroke="#231f20" stroke-width="0.14">16</text>
<polyline points="388.7,310.4 407.07,310.4 425.44,310.4 443.81,310.4" fill="none" stroke="#3d6a52" stroke-width="1.5"/>
<rect x="385.55" y="307.25" width="6.3" height="6.3" fill="#3d6a52" stroke="#111" stroke-width="0.9"/>
<rect x="403.92" y="307.25" width="6.3" height="6.3" fill="#3d6a52" stroke="#111" stroke-width="0.9"/>
<rect x="422.29" y="307.25" width="6.3" height="6.3" fill="#3d6a52" stroke="#111" stroke-width="0.9"/>
<rect x="440.66" y="307.25" width="6.3" height="6.3" fill="#3d6a52" stroke="#111" stroke-width="0.9"/>
<polyline points="388.7,310.4 407.07,307.08 425.44,310.4 443.81,310.4" fill="none" stroke="#ee9810" stroke-width="1.4"/>
<rect x="385.55" y="307.25" width="6.3" height="6.3" fill="#f29d1d" stroke="#111" stroke-width="0.9"/>
<rect x="403.92" y="303.93" width="6.3" height="6.3" fill="#f29d1d" stroke="#111" stroke-width="0.9"/>
<rect x="422.29" y="307.25" width="6.3" height="6.3" fill="#f29d1d" stroke="#111" stroke-width="0.9"/>
<rect x="440.66" y="307.25" width="6.3" height="6.3" fill="#f29d1d" stroke="#111" stroke-width="0.9"/>
<line x1="407.07" y1="263.11" x2="407.07" y2="291.57" stroke="#222" stroke-width="1"/>
<line x1="403.87" y1="263.11" x2="410.27" y2="263.11" stroke="#222" stroke-width="1"/>
<line x1="403.87" y1="291.57" x2="410.27" y2="291.57" stroke="#222" stroke-width="1"/>
<line x1="425.44" y1="242.51" x2="425.44" y2="276.18" stroke="#222" stroke-width="1"/>
<line x1="422.24" y1="242.51" x2="428.64" y2="242.51" stroke="#222" stroke-width="1"/>
<line x1="422.24" y1="276.18" x2="428.64" y2="276.18" stroke="#222" stroke-width="1"/>
<line x1="443.81" y1="241.29" x2="443.81" y2="276.18" stroke="#222" stroke-width="1"/>
<line x1="440.61" y1="241.29" x2="447.01" y2="241.29" stroke="#222" stroke-width="1"/>
<line x1="440.61" y1="276.18" x2="447.01" y2="276.18" stroke="#222" stroke-width="1"/>
<polyline points="388.7,310.4 407.07,278.5 425.44,259.45 443.81,259.01" fill="none" stroke="#41205c" stroke-width="1.45"/>
<rect x="385.55" y="307.25" width="6.3" height="6.3" fill="#4a2366" stroke="#111" stroke-width="0.9"/>
<rect x="403.92" y="275.35" width="6.3" height="6.3" fill="#4a2366" stroke="#111" stroke-width="0.9"/>
<rect x="422.29" y="256.3" width="6.3" height="6.3" fill="#4a2366" stroke="#111" stroke-width="0.9"/>
<rect x="440.66" y="255.85999999999999" width="6.3" height="6.3" fill="#4a2366" stroke="#111" stroke-width="0.9"/>
<text x="388.7" y="295.0" font-size="7.9" text-anchor="middle" fill="#231f20" font-weight="normal" stroke="#231f20" stroke-width="0.14">ns</text>
<text x="407.07" y="259.61" font-size="7.9" text-anchor="middle" fill="#231f20" font-weight="normal" stroke="#231f20" stroke-width="0.14">ns</text>
<text x="425.44" y="239.01" font-size="7.9" text-anchor="middle" fill="#231f20" font-weight="normal" stroke="#231f20" stroke-width="0.14">ns</text>
<text x="443.81" y="240.48999999999998" font-size="7" text-anchor="middle" fill="#231f20" font-weight="normal" stroke="#231f20" stroke-width="0.14">*</text>
<text x="388.7" y="304.4" font-size="7.9" text-anchor="middle" fill="#231f20" font-weight="normal" stroke="#231f20" stroke-width="0.14">ns</text>
<text x="407.07" y="300.1" font-size="7.9" text-anchor="middle" fill="#231f20" font-weight="normal" stroke="#231f20" stroke-width="0.14">ns</text>
<text x="425.44" y="303.6" font-size="7.9" text-anchor="middle" fill="#231f20" font-weight="normal" stroke="#231f20" stroke-width="0.14">ns</text>
<text x="443.81" y="303.6" font-size="7.9" text-anchor="middle" fill="#231f20" font-weight="normal" stroke="#231f20" stroke-width="0.14">ns</text>
<text x="0" y="0" font-size="10.2" fill="#231f20" stroke="#231f20" stroke-width="0.2" text-anchor="middle" textLength="45.5" lengthAdjust="spacingAndGlyphs" transform="translate(28.0,253.6) rotate(-90)">% donor cell</text>
<text x="254.3" y="338.8" font-size="10.8" text-anchor="middle" fill="#231f20" font-weight="normal" textLength="73.9" lengthAdjust="spacingAndGlyphs" stroke="#231f20" stroke-width="0.25">After transplant (wk)</text>
<line x1="463.9" y1="205.6" x2="478.2" y2="205.6" stroke="#4a2366" stroke-width="1.1"/>
<rect x="466.4" y="201.4" width="8.6" height="8.4" fill="#4a2366" stroke="#111" stroke-width="0.9"/>
<text x="482.2" y="207.6" font-size="8.1" text-anchor="start" fill="#231f20" font-weight="normal" font-style="italic" textLength="20.5" lengthAdjust="spacingAndGlyphs" stroke="#231f20" stroke-width="0.14">TIP60</text>
<text x="503" y="204.6" font-size="5.0" text-anchor="start" fill="#231f20" font-weight="normal" font-style="italic" textLength="4.9" lengthAdjust="spacingAndGlyphs" stroke="#231f20" stroke-width="0.14">wt</text>
<line x1="463.9" y1="219.4" x2="478.2" y2="219.4" stroke="#f29d1d" stroke-width="1.1"/>
<rect x="466.4" y="215.20000000000002" width="8.6" height="8.4" fill="#f29d1d" stroke="#111" stroke-width="0.9"/>
<text x="482.2" y="221.5" font-size="8.1" text-anchor="start" fill="#231f20" font-weight="normal" font-style="italic" textLength="20.5" lengthAdjust="spacingAndGlyphs" stroke="#231f20" stroke-width="0.14">TIP60</text>
<text x="503" y="218.5" font-size="5.0" text-anchor="start" fill="#231f20" font-weight="normal" font-style="italic" textLength="9.3" lengthAdjust="spacingAndGlyphs" stroke="#231f20" stroke-width="0.14">mut</text>
<line x1="463.9" y1="233" x2="478.2" y2="233" stroke="#3d6a52" stroke-width="1.1"/>
<rect x="466.4" y="228.8" width="8.6" height="8.4" fill="#3d6a52" stroke="#111" stroke-width="0.9"/>
<text x="482.2" y="235.3" font-size="8.1" text-anchor="start" fill="#231f20" font-weight="normal" font-style="italic" textLength="9.7" lengthAdjust="spacingAndGlyphs" stroke="#231f20" stroke-width="0.14">EV</text>
<rect x="0" y="0" width="520" height="1" fill="#000"/><rect x="1" y="1" width="518" height="1" fill="#d0d0d0"/>
<rect x="0" y="0" width="1" height="349" fill="#000"/><rect x="1" y="1" width="1" height="347" fill="#8a8a8a"/><rect x="2" y="2" width="1" height="345" fill="#ececec"/>
<rect x="519" y="0" width="1" height="349" fill="#000"/><rect x="518" y="1" width="1" height="347" fill="#9a9a9a"/>
<rect x="0" y="348" width="520" height="1" fill="#000"/><rect x="1" y="347" width="518" height="1" fill="#7a7a7a"/>
</svg>
</body></html>
